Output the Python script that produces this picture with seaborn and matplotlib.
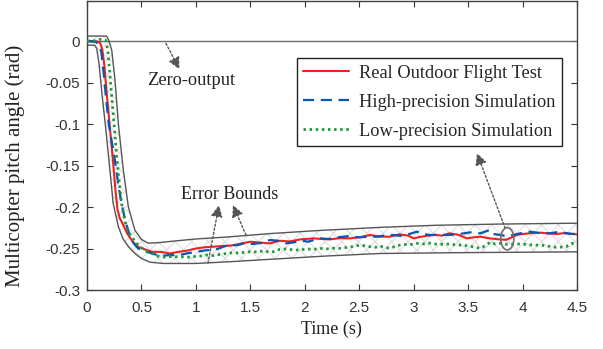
import numpy as np
import pandas as pd
import seaborn as sns
import matplotlib.pyplot as plt
from matplotlib.patches import Ellipse

sns.set_style('ticks')
plt.rcParams['axes.unicode_minus'] = False
plt.rcParams['hatch.linewidth'] = 0.8

# measured pitch angle (rad) over time (s)
t_real = [0, 0.08, 0.12, 0.14, 0.16, 0.18, 0.2, 0.22, 0.24, 0.26, 0.28, 0.3, 0.33, 0.37, 0.42,
          0.47, 0.53, 0.6, 0.68, 0.76, 0.84, 0.92, 1.0, 1.08, 1.16, 1.24, 1.32, 1.4, 1.5, 1.6,
          1.68, 1.77, 1.86, 1.96, 2.08, 2.16, 2.23, 2.32, 2.41, 2.5, 2.6, 2.69, 2.78, 2.87, 2.95,
          3.0, 3.06, 3.13, 3.2, 3.26, 3.33, 3.41, 3.49, 3.55, 3.61, 3.7, 3.79, 3.85, 3.9, 3.95,
          4.0, 4.08, 4.16, 4.24, 4.31, 4.38, 4.46, 4.5]
v_real = [0, 0, -0.002, -0.01, -0.03, -0.062, -0.09, -0.118, -0.147, -0.178, -0.203, -0.213, -0.221, -0.232, -0.242,
          -0.248, -0.251, -0.254, -0.254, -0.256, -0.254, -0.2525, -0.25, -0.2485, -0.2478, -0.247, -0.2465, -0.2445, -0.2418, -0.243,
          -0.2438, -0.2406, -0.2415, -0.239, -0.2378, -0.2385, -0.239, -0.2375, -0.2378, -0.2365, -0.2337, -0.2357, -0.2357, -0.2329, -0.2345,
          -0.2378, -0.236, -0.2345, -0.2335, -0.2345, -0.2317, -0.2335, -0.2378, -0.2365, -0.2357, -0.2378, -0.239, -0.2395, -0.2365, -0.2335,
          -0.2325, -0.2315, -0.2309, -0.2318, -0.2325, -0.2315, -0.2325, -0.233]

t_high = [0, 0.08, 0.11, 0.13, 0.15, 0.17, 0.2, 0.22, 0.25, 0.29, 0.32, 0.35, 0.395, 0.43, 0.47,
          0.53, 0.6, 0.67, 0.75, 0.85, 0.93, 1.01, 1.07, 1.13, 1.2, 1.26, 1.31, 1.38, 1.44, 1.52,
          1.59, 1.68, 1.75, 1.83, 1.9, 1.97, 2.03, 2.09, 2.14, 2.22, 2.3, 2.41, 2.5, 2.6, 2.66,
          2.73, 2.81, 2.9, 2.96, 3.03, 3.09, 3.15, 3.23, 3.33, 3.42, 3.52, 3.61, 3.7, 3.73, 3.79,
          3.85, 3.92, 3.98, 4.07, 4.16, 4.25, 4.34, 4.4, 4.46, 4.5]
v_high = [0, -0.001, -0.004, -0.012, -0.035, -0.062, -0.1, -0.116, -0.138, -0.1755, -0.198, -0.2157, -0.2357, -0.244, -0.25,
          -0.2535, -0.2558, -0.259, -0.258, -0.2578, -0.2555, -0.254, -0.2525, -0.2518, -0.2505, -0.2475, -0.2458, -0.246, -0.2438, -0.2445,
          -0.2435, -0.2398, -0.2405, -0.2438, -0.2425, -0.2405, -0.2418, -0.2395, -0.2378, -0.2385, -0.2365, -0.235, -0.2365, -0.2357, -0.2357,
          -0.2345, -0.2337, -0.235, -0.2325, -0.2297, -0.2325, -0.2337, -0.2335, -0.2337, -0.2325, -0.2305, -0.2317, -0.2277, -0.2325, -0.2335,
          -0.235, -0.2335, -0.2317, -0.2297, -0.2315, -0.2317, -0.2297, -0.2315, -0.2325, -0.2315]

t_low = [0, 0.06, 0.1, 0.14, 0.17, 0.19, 0.21, 0.227, 0.25, 0.27, 0.295, 0.318, 0.35, 0.38, 0.41,
         0.45, 0.49, 0.53, 0.58, 0.63, 0.67, 0.72, 0.78, 0.83, 0.88, 0.94, 1.0, 1.05, 1.1, 1.16,
         1.22, 1.28, 1.34, 1.4, 1.45, 1.5, 1.56, 1.62, 1.68, 1.73, 1.77, 1.83, 1.9, 1.96, 2.02,
         2.08, 2.14, 2.2, 2.26, 2.32, 2.38, 2.45, 2.51, 2.56, 2.6, 2.65, 2.69, 2.74, 2.78, 2.84,
         2.9, 2.96, 3.03, 3.09, 3.15, 3.21, 3.27, 3.33, 3.39, 3.45, 3.5, 3.56, 3.61, 3.66, 3.7,
         3.75, 3.79, 3.85, 3.92, 3.98, 4.04, 4.1, 4.16, 4.22, 4.27, 4.31, 4.36, 4.4, 4.45, 4.5]
v_low = [0, 0, 0.002, 0.002, 0.001, -0.01, -0.04, -0.067, -0.103, -0.135, -0.17, -0.196, -0.218, -0.23, -0.236,
         -0.243, -0.248, -0.252, -0.255, -0.258, -0.26, -0.2605, -0.2595, -0.26, -0.26, -0.2605, -0.2595, -0.259, -0.2578, -0.2585,
         -0.2572, -0.256, -0.255, -0.2555, -0.2545, -0.2538, -0.2542, -0.2528, -0.2545, -0.2535, -0.251, -0.2505, -0.2518, -0.2518, -0.2505,
         -0.251, -0.2498, -0.2505, -0.2495, -0.2498, -0.2488, -0.2475, -0.2458, -0.247, -0.2478, -0.2485, -0.247, -0.2488, -0.2498, -0.247,
         -0.245, -0.2455, -0.2438, -0.2445, -0.2435, -0.2448, -0.245, -0.2445, -0.2458, -0.2458, -0.247, -0.2482, -0.2498, -0.2465, -0.2425,
         -0.2445, -0.2438, -0.2448, -0.2446, -0.2446, -0.2452, -0.2458, -0.2458, -0.2468, -0.2478, -0.2486, -0.2482, -0.2478, -0.2438, -0.2445]

# error bounds
t_upper = [0, 0.18, 0.2, 0.227, 0.257, 0.288, 0.333, 0.38, 0.44, 0.5, 0.56, 0.65, 0.8, 1.0, 1.3,
           1.68, 2.1, 2.69, 3.2, 3.8, 4.5]
v_upper = [0.006, 0.006, 0.001, -0.011, -0.047, -0.1, -0.155, -0.2, -0.228, -0.239, -0.2435, -0.243, -0.241, -0.2385, -0.236,
           -0.232, -0.2285, -0.2245, -0.222, -0.2205, -0.2195]
t_lower = [0, 0.07, 0.089, 0.11, 0.14, 0.17, 0.21, 0.24, 0.288, 0.33, 0.38, 0.44, 0.5, 0.58, 0.7,
           1.0, 1.3, 1.68, 2.2, 2.69, 3.4, 4.5]
v_lower = [-0.005, -0.005, -0.009, -0.027, -0.067, -0.103, -0.155, -0.1955, -0.2237, -0.238, -0.2478, -0.256, -0.262, -0.2665, -0.268,
           -0.268, -0.266, -0.263, -0.259, -0.256, -0.255, -0.254]

series = [
    ('Real Outdoor Flight Test', t_real, v_real),
    ('High-precision Simulation', t_high, v_high),
    ('Low-precision Simulation', t_low, v_low),
]
df = pd.concat([pd.DataFrame({'Time': t, 'Pitch': v, 'Source': name}) for name, t, v in series],
               ignore_index=True)

serif = ['Liberation Serif', 'DejaVu Serif']
sans = ['Liberation Sans', 'DejaVu Sans']

fig = plt.figure(figsize=(6.03, 3.49), dpi=100)
ax = fig.add_axes([0.1443, 0.169, 0.8126, 0.8275])

# band between the bounds
ax.fill(np.concatenate([t_upper, t_lower[::-1]]), np.concatenate([v_upper, v_lower[::-1]]),
        facecolor='white', edgecolor='#dedede', hatch='xx', linewidth=0, zorder=1)
ax.axhline(0, color='#6a6a6a', lw=1.0, zorder=2)
ax.plot(t_upper, v_upper, color='#555555', lw=1.0, zorder=3)
ax.plot(t_lower, v_lower, color='#555555', lw=1.0, zorder=3)

styles = {
    'Real Outdoor Flight Test': dict(color='#f02020', lw=1.5, ls='-'),
    'High-precision Simulation': dict(color='#0a55b0', lw=1.6, ls=(0, (5, 3))),
    'Low-precision Simulation': dict(color='#1f9a3a', lw=2.0, ls=(0, (0.9, 1.3))),
}
for name, _, _ in series:
    st = styles[name]
    sns.lineplot(data=df[df['Source'] == name], x='Time', y='Pitch', sort=False, estimator=None,
                 color=st['color'], linewidth=st['lw'], linestyle=st['ls'], label=name, ax=ax, zorder=4)

ax.set_xlim(0, 4.5)
ax.set_ylim(-0.3, 0.048)
xt = np.arange(0, 4.51, 0.5)
yt = [0, -0.05, -0.1, -0.15, -0.2, -0.25, -0.3]
ax.set_xticks(xt)
ax.set_xticklabels([f'{v:g}' for v in xt])
ax.set_yticks(yt)
ax.set_yticklabels([f'{v:g}' for v in yt])
ax.tick_params(direction='in', length=4, width=0.8, colors='#333333', labelsize=11,
               top=True, right=True)
ax.tick_params(axis='x', pad=8)
ax.tick_params(axis='y', pad=5)
for lab in ax.get_xticklabels() + ax.get_yticklabels():
    lab.set_family(sans)
    lab.set_color('#333333')
for sp in ax.spines.values():
    sp.set_visible(True)
    sp.set_color('#404040')
    sp.set_linewidth(1.0)

ax.set_xlabel('Time (s)', family=serif, fontsize=13, color='#222222')
ax.xaxis.set_label_coords(0.498, -0.105)
ax.set_ylabel('Multicopter pitch angle (rad)', family=serif, fontsize=15, color='#222222')
ax.yaxis.set_label_coords(-0.127, 0.43)

leg = ax.legend(loc='upper left', bbox_to_anchor=(0.4286, 0.803), prop={'family': serif, 'size': 13.2},
                frameon=True, fancybox=False, edgecolor='#222222', framealpha=1,
                handlelength=2.5, handletextpad=0.55, labelspacing=0.66, borderpad=0.35,
                borderaxespad=0)
leg.get_frame().set_linewidth(1.0)

arrow = dict(arrowstyle='-|>,head_length=0.7,head_width=0.35', color='#555555', lw=1.0,
             linestyle=(0, (1.5, 1.5)), shrinkA=0, shrinkB=0)
ax.annotate('', xy=(0.848, -0.034), xytext=(0.725, -0.0028), arrowprops=arrow, zorder=6)
ax.text(0.955, -0.048, 'Zero-output', family=serif, fontsize=13.2, color='#222222', ha='center', va='center')
ax.text(1.313, -0.1855, 'Error Bounds', family=serif, fontsize=13, color='#222222', ha='center', va='center')
ax.annotate('', xy=(1.212, -0.1976), xytext=(1.111, -0.2675), arrowprops=arrow, zorder=6)
ax.annotate('', xy=(1.34, -0.1976), xytext=(1.46, -0.2337), arrowprops=arrow, zorder=6)
ax.annotate('', xy=(3.581, -0.135), xytext=(3.84, -0.2255), arrowprops=arrow, zorder=6)
ax.add_patch(Ellipse((3.86, -0.2383), 0.12, 0.0268, fill=False, edgecolor='#707070', lw=1.2, zorder=6))

fig.savefig('out.png', dpi=100)
